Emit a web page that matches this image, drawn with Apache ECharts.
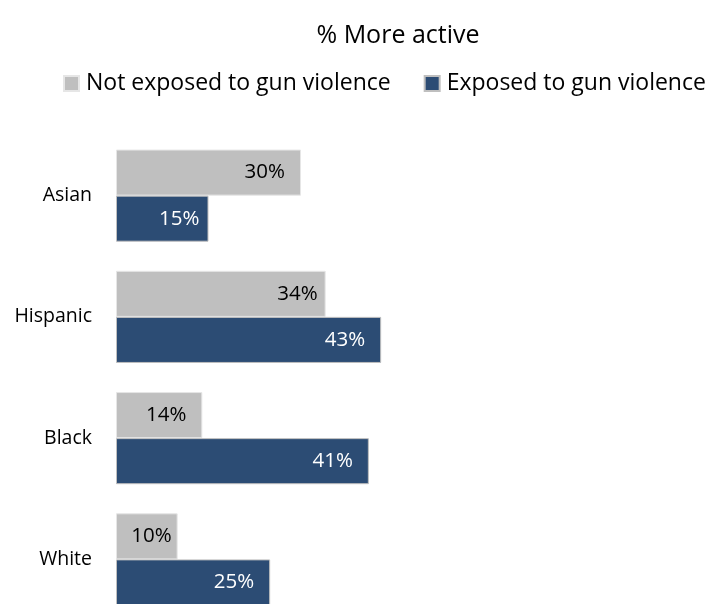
<!DOCTYPE html>
<html><head><meta charset="utf-8">
<script src="https://cdn.jsdelivr.net/npm/echarts@6/dist/echarts.min.js"></script>
<style>html,body{margin:0;padding:0;background:#fff;overflow:hidden}#c{width:713px;height:630px}</style>
</head><body><div id="c"></div>
<script>
const categories = ['Asian', 'Hispanic', 'Black', 'White'];
const notExposed = [30, 34, 14, 10];
const exposed = [15, 43, 41, 25];
const seriesNames = ['Not exposed to gun violence', 'Exposed to gun violence'];
const titleText = '% More active';

// label inset from bar end (style only)
const insetNotExposed = [16, 8, 16, 6];
const insetExposed = [9, 16, 16, 16];

const FONT = 'Open Sans';
function items(vals, insets) {
  return vals.map((v, i) => ({value: v, label: {distance: insets[i]}}));
}
const chart = echarts.init(document.getElementById('c'), null, {renderer: 'canvas'});
chart.setOption({
  animation: false,
  title: {text: titleText, left: 393, top: 18, textAlign: 'center',
    textStyle: {fontFamily: FONT, fontSize: 25, fontWeight: 'normal', color: '#000'}},
  legend: {top: 67, left: 58, itemWidth: 15, itemHeight: 15, itemGap: 33,
    icon: 'rect',
    textStyle: {fontFamily: FONT, fontSize: 23, color: '#000', padding: [0,0,0,2]},
    data: seriesNames},
  grid: {left: 116, top: 135, width: 555, height: 485, containLabel: false},
  xAxis: {type: 'value', min: 0, max: 90, show: false},
  yAxis: {type: 'category', data: categories, inverse: true,
    axisLine: {show: false}, axisTick: {show: false},
    axisLabel: {fontFamily: FONT, fontSize: 19.5, color: '#000', margin: 24}},
  series: [
    {name: seriesNames[0], type: 'bar', data: items(notExposed, insetNotExposed), barGap: '0%', barCategoryGap: '24%',
     itemStyle: {color: '#bfbfbf', borderColor: '#e6e6e6', borderWidth: 1},
     label: {show: true, position: 'insideRight', distance: 16, formatter: '{c}%',
       fontFamily: FONT, fontSize: 20.5, color: '#000'}},
    {name: seriesNames[1], type: 'bar', data: items(exposed, insetExposed),
     itemStyle: {color: '#2c4c74', borderColor: '#bfbfbf', borderWidth: 1},
     label: {show: true, position: 'insideRight', distance: 16, formatter: '{c}%',
       fontFamily: FONT, fontSize: 20.5, color: '#fff'}}
  ]
});
</script></body></html>
